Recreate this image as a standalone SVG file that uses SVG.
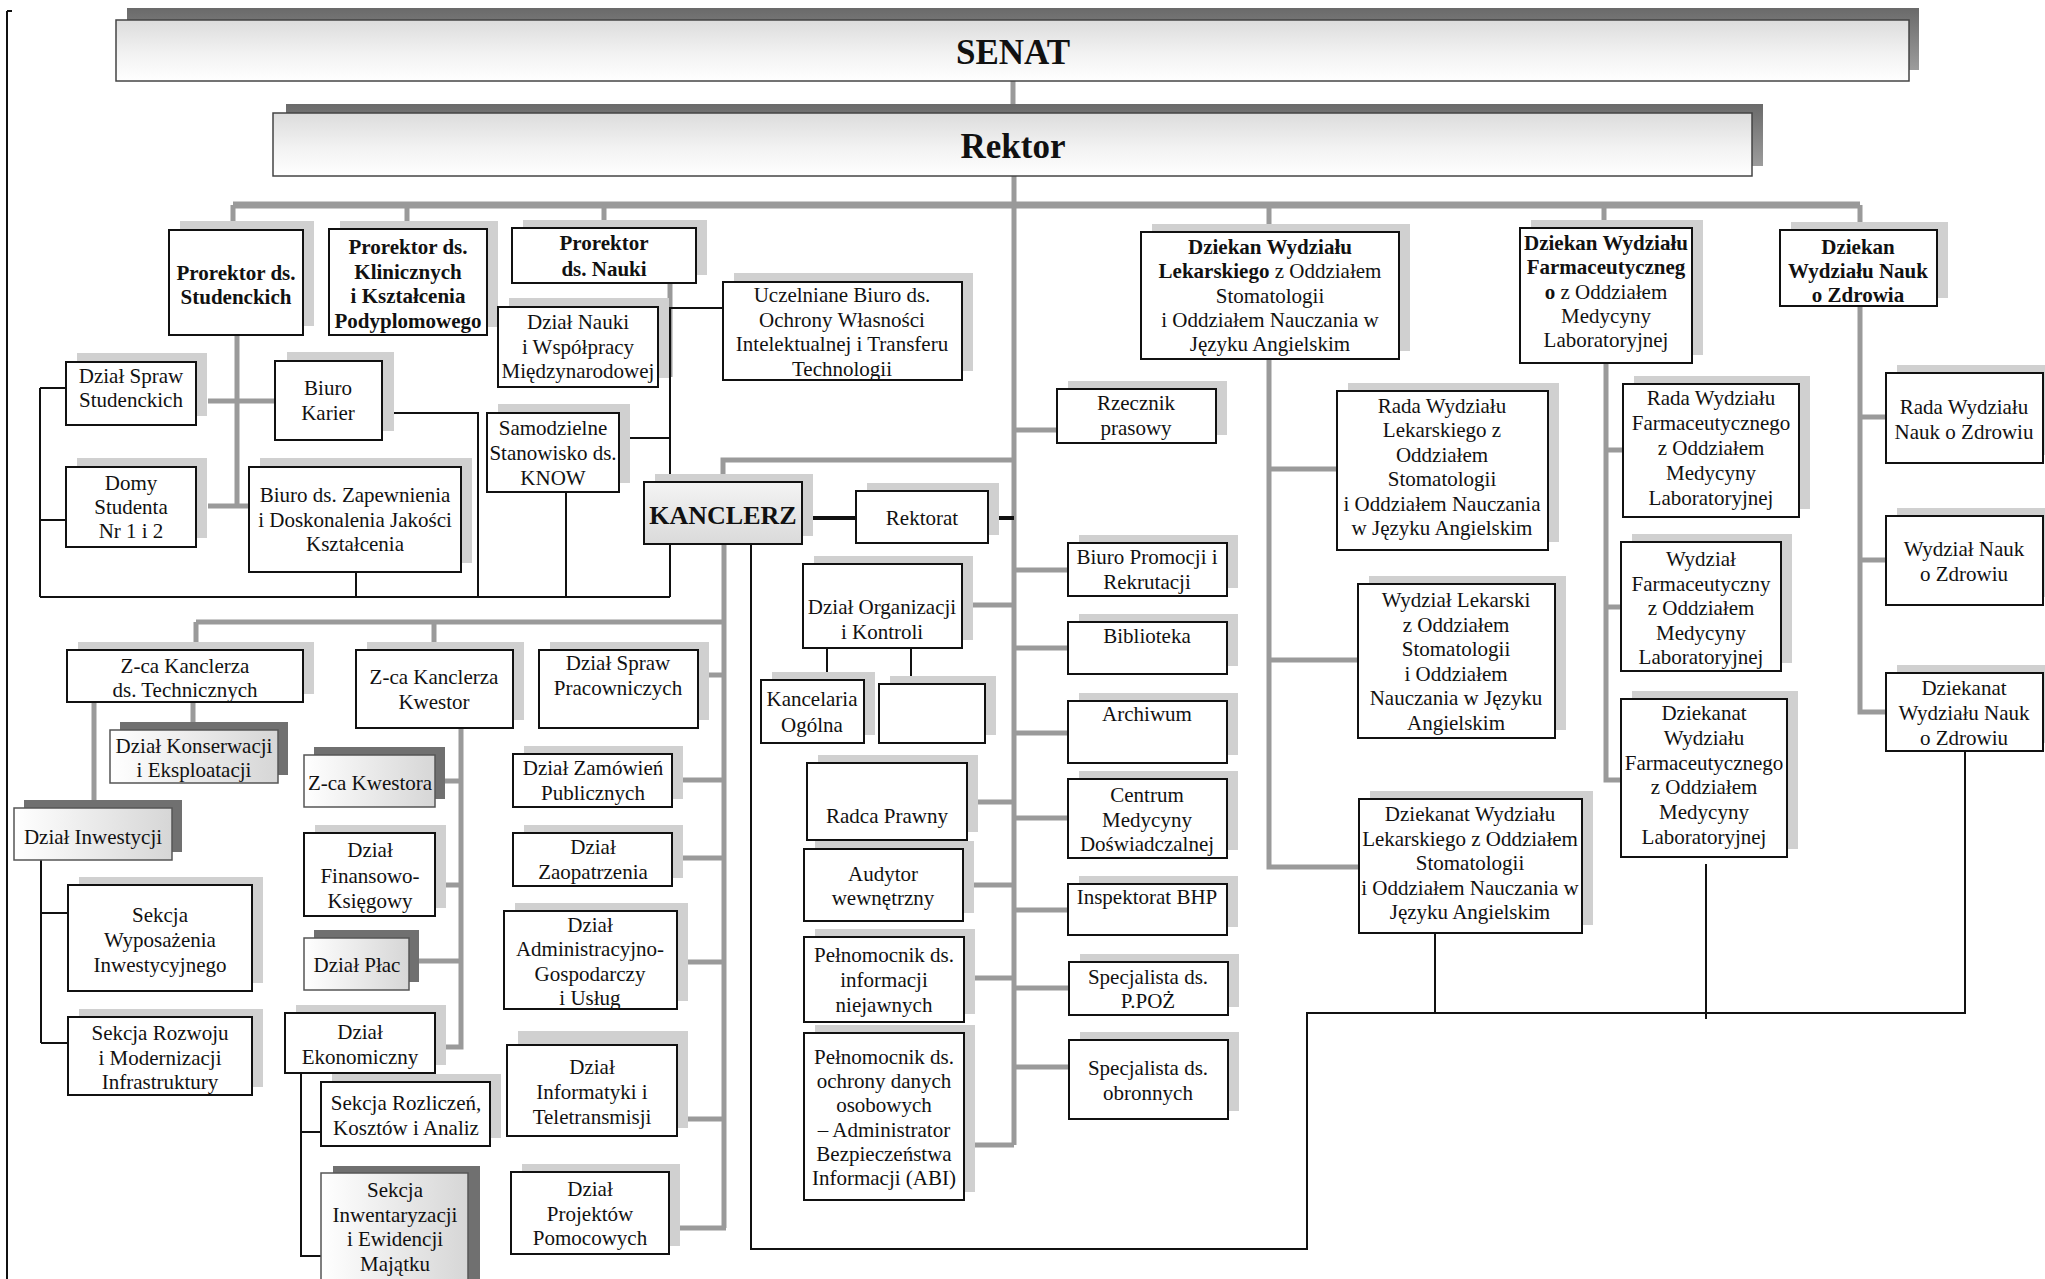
<svg xmlns="http://www.w3.org/2000/svg" width="2045" height="1279" viewBox="0 0 2045 1279">
<defs>
<linearGradient id="gTop" x1="0" y1="0" x2="0" y2="1"><stop offset="0" stop-color="#dcdcdc"/><stop offset="0.55" stop-color="#f2f2f2"/><stop offset="1" stop-color="#ffffff"/></linearGradient>
<linearGradient id="gShD" x1="0" y1="0" x2="0" y2="1"><stop offset="0" stop-color="#6a6a6a"/><stop offset="1" stop-color="#9c9c9c"/></linearGradient>
<linearGradient id="gBox" x1="0" y1="0" x2="1" y2="0"><stop offset="0" stop-color="#ffffff"/><stop offset="1" stop-color="#d6d6d6"/></linearGradient>
<linearGradient id="gKan" x1="0" y1="0" x2="0" y2="1"><stop offset="0" stop-color="#f4f4f4"/><stop offset="1" stop-color="#dadada"/></linearGradient>
<style>
.sh{fill:#d0d0d0}
.shd{fill:#707070}
.shb{fill:url(#gShD)}
.bx{fill:#ffffff;stroke:#111;stroke-width:2}
.bxd{fill:url(#gBox);stroke:#555;stroke-width:1.5}
.bxt{fill:url(#gTop);stroke:#444;stroke-width:1.5}
.t{font-family:"Liberation Serif","Times New Roman",serif;font-size:21px;text-anchor:middle;fill:#111}
.b{font-weight:bold}
.big{font-family:"Liberation Serif","Times New Roman",serif;font-size:35px;font-weight:bold;text-anchor:middle;fill:#111}
.gc{fill:none;stroke:#9a9a9a;stroke-width:5}
.gb{fill:none;stroke:#9a9a9a;stroke-width:7}
.bc{fill:none;stroke:#111;stroke-width:2}
.bt{fill:none;stroke:#111;stroke-width:4}
</style>
</defs>
<rect width="2045" height="1279" fill="#ffffff"/>

<g id="connectors">
<path class="bc" d="M7,11 V1279 M7,11 H12"/>
<path class="gc" d="M1013,81 V113"/>
<path class="gc" d="M1014,176 V1145"/>
<path class="gb" d="M233,205 H1860"/>
<path class="gc" d="M233,205 V230 M407,205 V229 M604,205 V228 M1269,205 V232 M1604,205 V228 M1860,205 V230"/>
<path class="gc" d="M237,335 V506 M208,401 H275 M208,506 H249"/>
<path class="gc" d="M670,283 V377"/>
<path class="bc" d="M670,307 V597 M658,360 H670 M670,308 H723 M619,438 H670 M382,413 H478 V597 M356,572 V597 M566,492 V597 M40,597 H670 M40,388 V597 M40,388 H66 M40,520 H66"/>
<path class="gc" d="M1014,460 H723 V482 M724,544 V1228 M196,622 H724 M196,622 V650 M434,622 V650"/>
<path class="gc" d="M698,675 H724 M672,780 H724 M672,858 H724 M677,962 H724 M677,1119 H724 M669,1228 H726"/>
<path class="gc" d="M193,702 V730 M94,702 V808"/>
<path class="gc" d="M461,728 V1047 H435 M435,781 H461 M435,885 H461 M409,961 H461"/>
<path class="bc" d="M41,860 V1043 M41,913 H68 M41,1043 H68"/>
<path class="bc" d="M301,1073 V1256 H321 M301,1132 H321"/>
<path class="bc" d="M751,544 V1249 H1307 V1013 H1965 V751 M1435,933 V1013 M1706,864 V1019"/>
<path class="bt" d="M802,518 H856 M988,518 H1014"/>
<path class="gc" d="M962,605 H1014 M967,802 H1014 M963,885 H1014 M964,978 H1014 M964,1145 H1014"/>
<path class="bc" d="M827,648 V680 M911,648 V684"/>
<path class="gc" d="M1014,430 H1057 M1014,570 H1068 M1014,648 H1068 M1014,733 H1068 M1014,818 H1068 M1014,910 H1068 M1014,988 H1069 M1014,1067 H1069"/>
<path class="gc" d="M1269,359 V867 H1359 M1269,469 H1337 M1269,660 H1358"/>
<path class="gc" d="M1606,363 V780 H1621 M1606,450 H1623 M1606,607 H1621"/>
<path class="gc" d="M1860,306 V712 H1886 M1860,417 H1886 M1860,560 H1886"/>
</g>

<g id="n-senat">
<rect class="shb" x="127" y="8" width="1792" height="62"/>
<rect class="bxt" x="116" y="20" width="1793" height="61"/>
<text class="big" x="1013" y="64">SENAT</text>
</g>
<g id="n-rektor">
<rect class="shb" x="286" y="104" width="1477" height="62"/>
<rect class="bxt" x="273" y="113" width="1479" height="63"/>
<text class="big" x="1013" y="158">Rektor</text>
</g>

<g id="n-prorektor-stud">
<rect class="sh" x="180" y="221" width="134" height="105"/>
<rect class="bx" x="169" y="230" width="134" height="105"/>
<text class="t b" x="236" y="280"><tspan x="236">Prorektor ds.</tspan><tspan x="236" dy="24">Studenckich</tspan></text>
</g>
<g id="n-prorektor-klin">
<rect class="sh" x="340" y="221" width="158" height="106"/>
<rect class="bx" x="329" y="229" width="158" height="106"/>
<text class="t b" x="408" y="254"><tspan x="408">Prorektor ds.</tspan><tspan x="408" dy="24.5">Klinicznych</tspan><tspan x="408" dy="24.5">i Kształcenia</tspan><tspan x="408" dy="24.5">Podyplomowego</tspan></text>
</g>
<g id="n-prorektor-nauki">
<rect class="sh" x="523" y="220" width="184" height="55"/>
<rect class="bx" x="512" y="228" width="184" height="55"/>
<text class="t b" x="604" y="250"><tspan x="604">Prorektor</tspan><tspan x="604" dy="26">ds. Nauki</tspan></text>
</g>
<g id="n-dzial-nauki">
<rect class="sh" x="509" y="298" width="160" height="80"/>
<rect class="bx" x="498" y="307" width="160" height="80"/>
<text class="t" x="578" y="329"><tspan x="578">Dział Nauki</tspan><tspan x="578" dy="24.5">i Współpracy</tspan><tspan x="578" dy="24.5">Międzynarodowej</tspan></text>
</g>
<g id="n-uczelniane">
<rect class="sh" x="734" y="273" width="239" height="98"/>
<rect class="bx" x="723" y="282" width="239" height="98"/>
<text class="t" x="842" y="302"><tspan x="842">Uczelniane Biuro ds.</tspan><tspan x="842" dy="24.7">Ochrony Własności</tspan><tspan x="842" dy="24.7">Intelektualnej i Transferu</tspan><tspan x="842" dy="24.7">Technologii</tspan></text>
</g>
<g id="n-dss">
<rect class="sh" x="77" y="353" width="130" height="63"/>
<rect class="bx" x="66" y="362" width="130" height="63"/>
<text class="t" x="131" y="383"><tspan x="131">Dział Spraw</tspan><tspan x="131" dy="24">Studenckich</tspan></text>
</g>
<g id="n-karier">
<rect class="sh" x="287" y="352" width="107" height="79"/>
<rect class="bx" x="275" y="361" width="107" height="79"/>
<text class="t" x="328" y="395"><tspan x="328">Biuro</tspan><tspan x="328" dy="25">Karier</tspan></text>
</g>
<g id="n-domy">
<rect class="sh" x="77" y="458" width="130" height="80"/>
<rect class="bx" x="66" y="467" width="130" height="80"/>
<text class="t" x="131" y="490"><tspan x="131">Domy</tspan><tspan x="131" dy="24">Studenta</tspan><tspan x="131" dy="24">Nr 1 i 2</tspan></text>
</g>
<g id="n-zapewnienia">
<rect class="sh" x="260" y="458" width="212" height="105"/>
<rect class="bx" x="249" y="467" width="212" height="105"/>
<text class="t" x="355" y="502"><tspan x="355">Biuro ds. Zapewnienia</tspan><tspan x="355" dy="24.5">i Doskonalenia Jakości</tspan><tspan x="355" dy="24.5">Kształcenia</tspan></text>
</g>
<g id="n-know">
<rect class="sh" x="498" y="404" width="132" height="79"/>
<rect class="bx" x="487" y="413" width="132" height="79"/>
<text class="t" x="553" y="435"><tspan x="553">Samodzielne</tspan><tspan x="553" dy="25">Stanowisko ds.</tspan><tspan x="553" dy="25">KNOW</tspan></text>
</g>
<g id="n-kanclerz">
<rect class="sh" x="655" y="474" width="158" height="62"/>
<rect x="644" y="482" width="158" height="62" fill="url(#gKan)" stroke="#111" stroke-width="2"/>
<text class="t b" x="723" y="524" style="font-size:26px">KANCLERZ</text>
</g>
<g id="n-rektorat">
<rect class="sh" x="867" y="483" width="132" height="52"/>
<rect class="bx" x="856" y="491" width="132" height="52"/>
<text class="t" x="922" y="525">Rektorat</text>
</g>

<g id="n-rzecznik">
<rect class="sh" x="1068" y="381" width="159" height="54"/>
<rect class="bx" x="1057" y="389" width="159" height="54"/>
<text class="t" x="1136" y="410"><tspan x="1136">Rzecznik</tspan><tspan x="1136" dy="25">prasowy</tspan></text>
</g>
<g id="n-promocji">
<rect class="sh" x="1079" y="535" width="159" height="53"/>
<rect class="bx" x="1068" y="543" width="159" height="53"/>
<text class="t" x="1147" y="564"><tspan x="1147">Biuro Promocji i</tspan><tspan x="1147" dy="25">Rekrutacji</tspan></text>
</g>
<g id="n-organizacji">
<rect class="sh" x="814" y="556" width="159" height="84"/>
<rect class="bx" x="803" y="564" width="159" height="84"/>
<text class="t" x="882" y="614"><tspan x="882">Dział Organizacji</tspan><tspan x="882" dy="25">i Kontroli</tspan></text>
</g>
<g id="n-biblioteka">
<rect class="sh" x="1079" y="614" width="159" height="52"/>
<rect class="bx" x="1068" y="622" width="159" height="52"/>
<text class="t" x="1147" y="643">Biblioteka</text>
</g>
<g id="n-kancelaria">
<rect class="sh" x="772" y="672" width="103" height="63"/>
<rect class="bx" x="761" y="680" width="103" height="63"/>
<text class="t" x="812" y="706"><tspan x="812">Kancelaria</tspan><tspan x="812" dy="26">Ogólna</tspan></text>
</g>
<g id="n-pusty">
<rect class="sh" x="890" y="676" width="106" height="59"/>
<rect class="bx" x="879" y="684" width="106" height="59"/>
</g>
<g id="n-archiwum">
<rect class="sh" x="1079" y="693" width="159" height="62"/>
<rect class="bx" x="1068" y="701" width="159" height="62"/>
<text class="t" x="1147" y="721">Archiwum</text>
</g>
<g id="n-radca">
<rect class="sh" x="818" y="755" width="160" height="77"/>
<rect class="bx" x="807" y="763" width="160" height="77"/>
<text class="t" x="887" y="823">Radca Prawny</text>
</g>
<g id="n-centrum">
<rect class="sh" x="1079" y="771" width="159" height="79"/>
<rect class="bx" x="1068" y="779" width="159" height="79"/>
<text class="t" x="1147" y="802"><tspan x="1147">Centrum</tspan><tspan x="1147" dy="24.5">Medycyny</tspan><tspan x="1147" dy="24.5">Doświadczalnej</tspan></text>
</g>
<g id="n-audytor">
<rect class="sh" x="815" y="841" width="159" height="72"/>
<rect class="bx" x="804" y="849" width="159" height="72"/>
<text class="t" x="883" y="881"><tspan x="883">Audytor</tspan><tspan x="883" dy="24">wewnętrzny</tspan></text>
</g>
<g id="n-bhp">
<rect class="sh" x="1079" y="876" width="159" height="51"/>
<rect class="bx" x="1068" y="884" width="159" height="51"/>
<text class="t" x="1147" y="904">Inspektorat BHP</text>
</g>
<g id="n-niejawne">
<rect class="sh" x="815" y="929" width="160" height="85"/>
<rect class="bx" x="804" y="937" width="160" height="85"/>
<text class="t" x="884" y="962"><tspan x="884">Pełnomocnik ds.</tspan><tspan x="884" dy="25">informacji</tspan><tspan x="884" dy="25">niejawnych</tspan></text>
</g>
<g id="n-ppoz">
<rect class="sh" x="1080" y="954" width="159" height="53"/>
<rect class="bx" x="1069" y="962" width="159" height="53"/>
<text class="t" x="1148" y="984"><tspan x="1148">Specjalista ds.</tspan><tspan x="1148" dy="24">P.POŻ</tspan></text>
</g>
<g id="n-obronnych">
<rect class="sh" x="1080" y="1032" width="159" height="79"/>
<rect class="bx" x="1069" y="1040" width="159" height="79"/>
<text class="t" x="1148" y="1075"><tspan x="1148">Specjalista ds.</tspan><tspan x="1148" dy="25">obronnych</tspan></text>
</g>
<g id="n-abi">
<rect class="sh" x="815" y="1025" width="160" height="167"/>
<rect class="bx" x="804" y="1033" width="160" height="167"/>
<text class="t" x="884" y="1064"><tspan x="884">Pełnomocnik ds.</tspan><tspan x="884" dy="24.2">ochrony danych</tspan><tspan x="884" dy="24.2">osobowych</tspan><tspan x="884" dy="24.2">– Administrator</tspan><tspan x="884" dy="24.2">Bezpieczeństwa</tspan><tspan x="884" dy="24.2">Informacji (ABI)</tspan></text>
</g>

<g id="n-dziekan-lek">
<rect class="sh" x="1152" y="224" width="258" height="127"/>
<rect class="bx" x="1141" y="232" width="258" height="127"/>
<text class="t" x="1270" y="254"><tspan x="1270" class="b">Dziekan Wydziału</tspan><tspan x="1270" dy="24.3"><tspan class="b">Lekarskiego</tspan> z Oddziałem</tspan><tspan x="1270" dy="24.3">Stomatologii</tspan><tspan x="1270" dy="24.3">i Oddziałem Nauczania w</tspan><tspan x="1270" dy="24.3">Języku Angielskim</tspan></text>
</g>
<g id="n-rada-lek">
<rect class="sh" x="1348" y="383" width="211" height="159"/>
<rect class="bx" x="1337" y="391" width="211" height="159"/>
<text class="t" x="1442" y="413"><tspan x="1442">Rada Wydziału</tspan><tspan x="1442" dy="24.4">Lekarskiego z</tspan><tspan x="1442" dy="24.4">Oddziałem</tspan><tspan x="1442" dy="24.4">Stomatologii</tspan><tspan x="1442" dy="24.4">i Oddziałem Nauczania</tspan><tspan x="1442" dy="24.4">w Języku Angielskim</tspan></text>
</g>
<g id="n-wydzial-lek">
<rect class="sh" x="1369" y="576" width="197" height="154"/>
<rect class="bx" x="1358" y="584" width="197" height="154"/>
<text class="t" x="1456" y="607"><tspan x="1456">Wydział Lekarski</tspan><tspan x="1456" dy="24.6">z Oddziałem</tspan><tspan x="1456" dy="24.6">Stomatologii</tspan><tspan x="1456" dy="24.6">i Oddziałem</tspan><tspan x="1456" dy="24.6">Nauczania w Języku</tspan><tspan x="1456" dy="24.6">Angielskim</tspan></text>
</g>
<g id="n-dziekanat-lek">
<rect class="sh" x="1370" y="791" width="223" height="134"/>
<rect class="bx" x="1359" y="799" width="223" height="134"/>
<text class="t" x="1470" y="821"><tspan x="1470">Dziekanat Wydziału</tspan><tspan x="1470" dy="24.5">Lekarskiego z Oddziałem</tspan><tspan x="1470" dy="24.5">Stomatologii</tspan><tspan x="1470" dy="24.5">i Oddziałem Nauczania w</tspan><tspan x="1470" dy="24.5">Języku Angielskim</tspan></text>
</g>
<g id="n-dziekan-farm">
<rect class="sh" x="1531" y="220" width="172" height="135"/>
<rect class="bx" x="1520" y="228" width="172" height="135"/>
<text class="t" x="1606" y="250"><tspan x="1606" class="b">Dziekan Wydziału</tspan><tspan x="1606" dy="24.3" class="b">Farmaceutyczneg</tspan><tspan x="1606" dy="24.3"><tspan class="b">o</tspan> z Oddziałem</tspan><tspan x="1606" dy="24.3">Medycyny</tspan><tspan x="1606" dy="24.3">Laboratoryjnej</tspan></text>
</g>
<g id="n-rada-farm">
<rect class="sh" x="1634" y="376" width="176" height="133"/>
<rect class="bx" x="1623" y="384" width="176" height="133"/>
<text class="t" x="1711" y="405"><tspan x="1711">Rada Wydziału</tspan><tspan x="1711" dy="25">Farmaceutycznego</tspan><tspan x="1711" dy="25">z Oddziałem</tspan><tspan x="1711" dy="25">Medycyny</tspan><tspan x="1711" dy="25">Laboratoryjnej</tspan></text>
</g>
<g id="n-wydzial-farm">
<rect class="sh" x="1632" y="534" width="160" height="129"/>
<rect class="bx" x="1621" y="542" width="160" height="129"/>
<text class="t" x="1701" y="566"><tspan x="1701">Wydział</tspan><tspan x="1701" dy="24.5">Farmaceutyczny</tspan><tspan x="1701" dy="24.5">z Oddziałem</tspan><tspan x="1701" dy="24.5">Medycyny</tspan><tspan x="1701" dy="24.5">Laboratoryjnej</tspan></text>
</g>
<g id="n-dziekanat-farm">
<rect class="sh" x="1632" y="691" width="166" height="158"/>
<rect class="bx" x="1621" y="699" width="166" height="158"/>
<text class="t" x="1704" y="720"><tspan x="1704">Dziekanat</tspan><tspan x="1704" dy="24.8">Wydziału</tspan><tspan x="1704" dy="24.8">Farmaceutycznego</tspan><tspan x="1704" dy="24.8">z Oddziałem</tspan><tspan x="1704" dy="24.8">Medycyny</tspan><tspan x="1704" dy="24.8">Laboratoryjnej</tspan></text>
</g>
<g id="n-dziekan-noz">
<rect class="sh" x="1791" y="222" width="157" height="76"/>
<rect class="bx" x="1780" y="230" width="157" height="76"/>
<text class="t b" x="1858" y="254"><tspan x="1858">Dziekan</tspan><tspan x="1858" dy="24">Wydziału Nauk</tspan><tspan x="1858" dy="24">o  Zdrowia</tspan></text>
</g>
<g id="n-rada-noz">
<rect class="sh" x="1897" y="365" width="150" height="90"/>
<rect class="bx" x="1886" y="373" width="157" height="90"/>
<text class="t" x="1964" y="414"><tspan x="1964">Rada Wydziału</tspan><tspan x="1964" dy="25">Nauk o Zdrowiu</tspan></text>
</g>
<g id="n-wydzial-noz">
<rect class="sh" x="1897" y="508" width="150" height="89"/>
<rect class="bx" x="1886" y="516" width="157" height="89"/>
<text class="t" x="1964" y="556"><tspan x="1964">Wydział Nauk</tspan><tspan x="1964" dy="25">o Zdrowiu</tspan></text>
</g>
<g id="n-dziekanat-noz">
<rect class="sh" x="1897" y="665" width="150" height="78"/>
<rect class="bx" x="1886" y="673" width="157" height="78"/>
<text class="t" x="1964" y="695"><tspan x="1964">Dziekanat</tspan><tspan x="1964" dy="25">Wydziału Nauk</tspan><tspan x="1964" dy="25">o Zdrowiu</tspan></text>
</g>

<g id="n-zca-tech">
<rect class="sh" x="78" y="642" width="236" height="52"/>
<rect class="bx" x="67" y="650" width="236" height="52"/>
<text class="t" x="185" y="673"><tspan x="185">Z-ca Kanclerza</tspan><tspan x="185" dy="24">ds. Technicznych</tspan></text>
</g>
<g id="n-zca-kwestor">
<rect class="sh" x="367" y="642" width="157" height="78"/>
<rect class="bx" x="356" y="650" width="157" height="78"/>
<text class="t" x="434" y="684"><tspan x="434">Z-ca Kanclerza</tspan><tspan x="434" dy="25">Kwestor</tspan></text>
</g>
<g id="n-pracowniczych">
<rect class="sh" x="550" y="642" width="159" height="78"/>
<rect class="bx" x="539" y="650" width="159" height="78"/>
<text class="t" x="618" y="670"><tspan x="618">Dział Spraw</tspan><tspan x="618" dy="25">Pracowniczych</tspan></text>
</g>
<g id="n-konserwacji">
<rect class="shd" x="120" y="722" width="168" height="53"/>
<rect class="bxd" x="110" y="730" width="168" height="53"/>
<text class="t" x="194" y="753"><tspan x="194">Dział Konserwacji</tspan><tspan x="194" dy="24">i Eksploatacji</tspan></text>
</g>
<g id="n-inwestycji">
<rect class="shd" x="24" y="800" width="158" height="52"/>
<rect class="bxd" x="14" y="808" width="158" height="52"/>
<text class="t" x="93" y="844">Dział Inwestycji</text>
</g>
<g id="n-wyposazenia">
<rect class="sh" x="79" y="877" width="184" height="106"/>
<rect class="bx" x="68" y="885" width="184" height="106"/>
<text class="t" x="160" y="922"><tspan x="160">Sekcja</tspan><tspan x="160" dy="25">Wyposażenia</tspan><tspan x="160" dy="25">Inwestycyjnego</tspan></text>
</g>
<g id="n-rozwoju">
<rect class="sh" x="79" y="1009" width="184" height="78"/>
<rect class="bx" x="68" y="1017" width="184" height="78"/>
<text class="t" x="160" y="1040"><tspan x="160">Sekcja Rozwoju</tspan><tspan x="160" dy="24.5">i Modernizacji</tspan><tspan x="160" dy="24.5">Infrastruktury</tspan></text>
</g>
<g id="n-zca-kwestora">
<rect class="shd" x="314" y="747" width="131" height="52"/>
<rect class="bxd" x="304" y="755" width="131" height="52"/>
<text class="t" x="370" y="790">Z-ca Kwestora</text>
</g>
<g id="n-finansowo">
<rect class="sh" x="315" y="825" width="131" height="83"/>
<rect class="bx" x="304" y="833" width="131" height="83"/>
<text class="t" x="370" y="857"><tspan x="370">Dział</tspan><tspan x="370" dy="25.5">Finansowo-</tspan><tspan x="370" dy="25.5">Księgowy</tspan></text>
</g>
<g id="n-plac">
<rect class="shd" x="314" y="930" width="105" height="52"/>
<rect class="bxd" x="304" y="938" width="105" height="52"/>
<text class="t" x="357" y="972">Dział Płac</text>
</g>
<g id="n-ekonomiczny">
<rect class="sh" x="296" y="1005" width="150" height="60"/>
<rect class="bx" x="285" y="1013" width="150" height="60"/>
<text class="t" x="360" y="1039"><tspan x="360">Dział</tspan><tspan x="360" dy="25">Ekonomiczny</tspan></text>
</g>
<g id="n-rozliczen">
<rect class="sh" x="332" y="1074" width="169" height="64"/>
<rect class="bx" x="321" y="1082" width="169" height="64"/>
<text class="t" x="406" y="1110"><tspan x="406">Sekcja Rozliczeń,</tspan><tspan x="406" dy="25">Kosztów i Analiz</tspan></text>
</g>
<g id="n-inwentaryzacji">
<rect class="shd" x="333" y="1166" width="147" height="120"/>
<rect class="bxd" x="321" y="1173" width="147" height="120"/>
<text class="t" x="395" y="1197"><tspan x="395">Sekcja</tspan><tspan x="395" dy="24.7">Inwentaryzacji</tspan><tspan x="395" dy="24.7">i Ewidencji</tspan><tspan x="395" dy="24.7">Majątku</tspan></text>
</g>
<g id="n-zamowien">
<rect class="sh" x="524" y="746" width="159" height="53"/>
<rect class="bx" x="513" y="754" width="159" height="53"/>
<text class="t" x="593" y="775"><tspan x="593">Dział Zamówień</tspan><tspan x="593" dy="25">Publicznych</tspan></text>
</g>
<g id="n-zaopatrzenia">
<rect class="sh" x="524" y="825" width="159" height="53"/>
<rect class="bx" x="513" y="833" width="159" height="53"/>
<text class="t" x="593" y="854"><tspan x="593">Dział</tspan><tspan x="593" dy="25">Zaopatrzenia</tspan></text>
</g>
<g id="n-administracyjno">
<rect class="sh" x="515" y="903" width="173" height="98"/>
<rect class="bx" x="504" y="911" width="173" height="98"/>
<text class="t" x="590" y="932"><tspan x="590">Dział</tspan><tspan x="590" dy="24.3">Administracyjno-</tspan><tspan x="590" dy="24.3">Gospodarczy</tspan><tspan x="590" dy="24.3">i Usług</tspan></text>
</g>
<g id="n-informatyki">
<rect class="sh" x="518" y="1031" width="170" height="97"/>
<rect class="bx" x="507" y="1045" width="170" height="91"/>
<text class="t" x="592" y="1074"><tspan x="592">Dział</tspan><tspan x="592" dy="25">Informatyki i</tspan><tspan x="592" dy="25">Teletransmisji</tspan></text>
</g>
<g id="n-projektow">
<rect class="sh" x="522" y="1164" width="158" height="82"/>
<rect class="bx" x="511" y="1172" width="158" height="82"/>
<text class="t" x="590" y="1196"><tspan x="590">Dział</tspan><tspan x="590" dy="24.5">Projektów</tspan><tspan x="590" dy="24.5">Pomocowych</tspan></text>
</g>
</svg>
